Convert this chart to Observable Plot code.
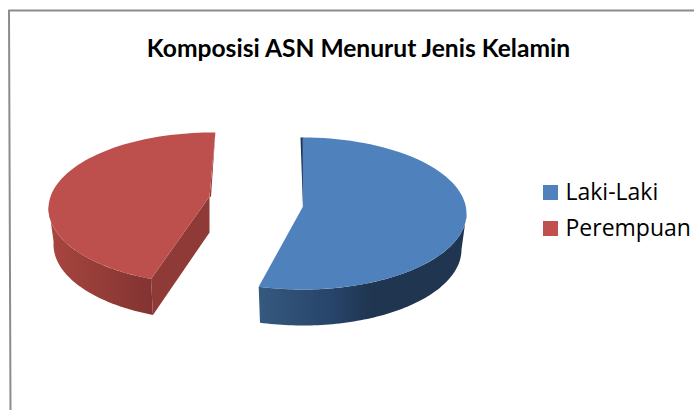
<!DOCTYPE html>
<html>
<head>
<meta charset="utf-8">
<script src="https://cdn.jsdelivr.net/npm/d3@7"></script>
<script src="https://cdn.jsdelivr.net/npm/@observablehq/plot@0.6"></script>
<style>html,body{margin:0;padding:0;background:#fff}svg{display:block}</style>
</head>
<body>
<div id="chart"></div>
<script>
// Data
const categories = ["Laki-Laki", "Perempuan"];
const sliceStartDeg = [0, 202];
const sliceSweepDeg = [195.5, 159];
const titleText = "Komposisi ASN Menurut Jenis Kelamin";

// Styles and layout
const topColors = ["#4F81BD", "#BD504C"];
const swatchColors = ["#4F81BD", "#C0504D"];
const cutColors = ["#1F3550", "#8F3A37"];
const centers = [[302, 213], [212, 208]];
const apexes = [[302.5, 206], [209, 196]];
const rxTop = 164, rxBottom = 159, ry = 76, depth = 36;

const rad = d => d * Math.PI / 180;
const ptTop = (i, a) => [centers[i][0] + rxTop * Math.sin(rad(a)), centers[i][1] - ry * Math.cos(rad(a))];
const ptBot = (i, a) => [centers[i][0] + rxBottom * Math.sin(rad(a)), centers[i][1] + depth - ry * Math.cos(rad(a))];
const steps = (a, b, n = 80) => d3.range(n + 1).map(k => a + (b - a) * k / n);

function poly(points, fill) {
  return Plot.line(points, {x: d => d[0], y: d => d[1], fill, stroke: "none", curve: "linear"});
}
function gradient(id, stops) {
  return () => {
    const s = d3.create("svg:defs");
    const g = s.append("linearGradient").attr("id", id).attr("x1", 0).attr("x2", 1).attr("y1", 0).attr("y2", 0);
    stops.forEach(([o, c]) => g.append("stop").attr("offset", o).attr("stop-color", c));
    return s.node();
  };
}
const [s0, s1] = sliceStartDeg;
const e0 = s0 + sliceSweepDeg[0], e1 = s1 + sliceSweepDeg[1];

// walls
const blueWallAngles = steps(90, e0);
const blueWall = [...blueWallAngles.map(a => ptTop(0, a)), ...blueWallAngles.slice().reverse().map(a => ptBot(0, a))];
const redWallAngles = steps(s1, 272);
const redWall = [...redWallAngles.map(a => ptTop(1, a)), ...redWallAngles.slice().reverse().map(a => ptBot(1, a))];

// cut faces
const redTipTop = ptTop(1, s1), redTipBot = ptBot(1, s1);
const redCut = [apexes[1], redTipTop, redTipBot, [apexes[1][0], apexes[1][1] + depth]];
const redBackEdge = ptTop(1, e1);
const redSliver = [redBackEdge, [apexes[1][0], apexes[1][1] + 1], [apexes[1][0] + 1.5, apexes[1][1]]];
const blueStart = ptTop(0, s0);
const blueSliver = [[blueStart[0] - 2, blueStart[1]], [apexes[0][0], apexes[0][1] + 2], [apexes[0][0] + 1, apexes[0][1]], [blueStart[0] + 1, blueStart[1]]];

// top faces
const blueTop = [apexes[0], ...steps(s0, e0).map(a => ptTop(0, a))];
const redTop = [apexes[1], ...steps(s1, e1).map(a => ptTop(1, a))];

const legend = categories.map((name, i) => ({name, color: swatchColors[i], y: 192.5 + i * 36}));

const chart = Plot.plot({
  width: 694, height: 410,
  margin: 0,
  x: {domain: [0, 694], range: [0, 694], axis: null},
  y: {domain: [0, 410], range: [0, 410], axis: null},
  style: {background: "#fff"},
  marks: [
    gradient("blueWallGrad", [[0, "#36597F"], [0.35, "#27446A"], [0.55, "#1F3550"], [1, "#1F3550"]]),
    gradient("redWallGrad", [[0, "#A8463F"], [1, "#823331"]]),
    // frame of the picture
    Plot.line([[694, 10], [8.5, 10], [10, 410]], {x: d => d[0], y: d => d[1], stroke: "#8C8C8C", strokeWidth: 2, curve: "linear"}),
    // slices
    poly(blueSliver, cutColors[0]),
    poly(blueWall, "url(#blueWallGrad)"),
    poly(blueTop, topColors[0]),
    poly(redCut, cutColors[1]),
    poly(redWall, "url(#redWallGrad)"),
    poly(redSliver, cutColors[1]),
    poly(redTop, topColors[1]),
    // title
    Plot.text([titleText], {x: () => 358, y: () => 49, text: d => d, fontFamily: "Lato", fontWeight: 700, fontSize: 24.6, fill: "#000", textAnchor: "middle", lineAnchor: "middle"}),
    // legend
    Plot.text(legend, {x: () => 565, y: d => d.y, text: "name", fontFamily: "Open Sans", fontSize: 23, fill: "#000", textAnchor: "start", lineAnchor: "middle"}),
    Plot.rect(legend, {x1: () => 543, x2: () => 558, y1: d => d.y - 7.5, y2: d => d.y + 7.5, fill: "color"})
  ]
});
document.getElementById("chart").appendChild(chart);
</script>
</body>
</html>
